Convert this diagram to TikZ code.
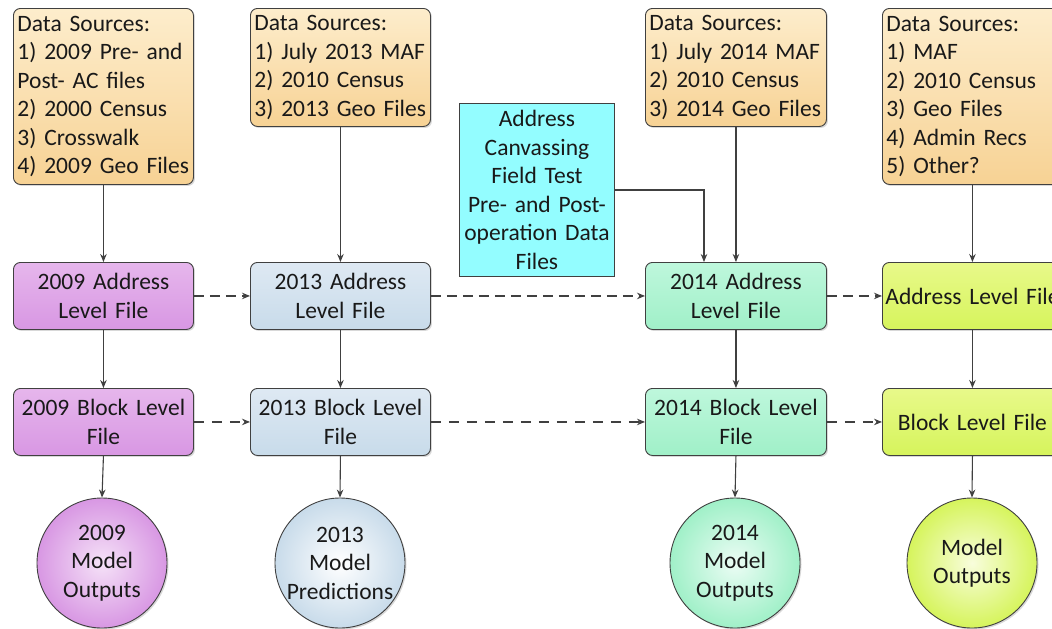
\documentclass[tikz,border=0pt]{standalone}
\usepackage{fontspec}
\setmainfont{Carlito}
\usetikzlibrary{arrows.meta,shadows,shadings}
\newcommand\bigfs{\fontsize{23.5}{28.5}\selectfont}
\definecolor{srcT}{HTML}{FDEDCC}\definecolor{srcB}{HTML}{F7D294}
\definecolor{purT}{HTML}{E6B6EC}\definecolor{purB}{HTML}{D897E3}
\definecolor{bluT}{HTML}{DEE9F3}\definecolor{bluB}{HTML}{C8DBEA}
\definecolor{minT}{HTML}{BEF7DC}\definecolor{minB}{HTML}{A0F0C8}
\definecolor{ylwT}{HTML}{E8F98A}\definecolor{ylwB}{HTML}{D6F45C}
\definecolor{cyanbox}{HTML}{93FDFF}
\definecolor{edge}{HTML}{404040}
\tikzset{
  box/.style={draw=edge, line width=0.9pt, rounded corners=7pt, inner sep=0pt,
    font=\bigfs, text=black!90, anchor=north west,
    drop shadow={shadow xshift=1.5pt,shadow yshift=-1.5pt,opacity=0.3}},
  srcbox/.style={box, top color=srcT, bottom color=srcB, align=left,
    text width=172pt, minimum width=180pt},
  filebox/.style={box, align=center, text width=176pt, minimum width=180pt, minimum height=67pt},
  outc/.style={circle, draw=edge, line width=0.9pt, minimum size=130pt, inner sep=0pt,
    align=center, font=\bigfs, text=black!90,
    drop shadow={shadow xshift=1.5pt,shadow yshift=-1.5pt,opacity=0.3}},
  arr/.style={draw=edge, line width=1.1pt, -{Stealth[length=8pt,width=6.5pt]}},
  dasharrA/.style={arr, line width=1.7pt, dash pattern=on 10pt off 6pt},
  dasharrB/.style={arr, dash pattern=on 10pt off 8pt},
}
\begin{document}
\begin{tikzpicture}[x=1pt,y=-1pt]
\fill[white] (0,0) rectangle (1052,629);
\useasboundingbox (0,0) rectangle (1052,629);
% data sources
\node[srcbox, minimum height=176pt] (src1) at (13,8) {Data Sources:\\1) 2009 Pre- and\\Post- AC files\\2) 2000 Census\\3) Crosswalk\\4) 2009 Geo Files};
\node[srcbox, minimum height=118pt] (src2) at (250,8) {Data Sources:\\1) July 2013 MAF\\2) 2010 Census\\3) 2013 Geo Files};
\node[srcbox, minimum height=118pt, text width=173pt, minimum width=181pt] (src3) at (645,8) {Data Sources:\\1) July 2014 MAF\\2) 2010 Census\\3) 2014 Geo Files};
\node[srcbox, minimum height=176pt] (src4) at (882,8) {Data Sources:\\1) MAF\\2) 2010 Census\\3) Geo Files\\4) Admin Recs\\5) Other?};
% cyan box
\node[draw=edge, line width=0.9pt, fill=cyanbox, inner sep=0pt, anchor=north west,
  minimum width=155pt, minimum height=173pt, text width=150pt, align=center,
  font=\bigfs, text=black!90] (ac) at (459,103)
  {Address\\Canvassing\\Field Test\\Pre- and Post-\\operation Data\\Files};
% address level
\node[filebox, top color=purT, bottom color=purB] (a1) at (13,262) {2009 Address\\Level File};
\node[filebox, top color=bluT, bottom color=bluB] (a2) at (250,262) {2013 Address\\Level File};
\node[filebox, top color=minT, bottom color=minB, minimum width=181pt] (a3) at (645,262) {2014 Address\\Level File};
\node[filebox, top color=ylwT, bottom color=ylwB] (a4) at (882,262) {Address Level File};
% block level
\node[filebox, top color=purT, bottom color=purB] (b1) at (13,388) {2009 Block Level\\File};
\node[filebox, top color=bluT, bottom color=bluB] (b2) at (250,388) {2013 Block Level\\File};
\node[filebox, top color=minT, bottom color=minB, minimum width=181pt] (b3) at (645,388) {2014 Block Level\\File};
\node[filebox, top color=ylwT, bottom color=ylwB] (b4) at (882,388) {Block Level File};
% outputs
\node[outc, inner color=purT!40!white, outer color=purB] (o1) at (102,563) {2009\\Model\\Outputs};
\node[outc, inner color=white, outer color=bluB] (o2) at (340,563) {2013\\Model\\Predictions};
\node[outc, inner color=minT!30!white, outer color=minB] (o3) at (735,563) {2014\\Model\\Outputs};
\node[outc, inner color=ylwT!30!white, outer color=ylwB] (o4) at (972,563) {Model\\Outputs};
% vertical arrows
\foreach \i in {1,2,3,4}{
  \draw[arr] (src\i.south) -- (a\i.north);
  \draw[arr] (a\i.south) -- (b\i.north);
  \draw[arr] (b\i.south) -- (o\i.north);
}
\coordinate (acin) at (704,262);
\draw[arr] (ac.east) -| (acin);
% dashed arrows
\draw[dasharrA] (a1.east) -- (a2.west);
\draw[dasharrA] (a2.east) -- (a3.west);
\draw[dasharrA] (a3.east) -- (a4.west);
\draw[dasharrB] (b1.east) -- (b2.west);
\draw[dasharrB] (b2.east) -- (b3.west);
\draw[dasharrB] (b3.east) -- (b4.west);
\end{tikzpicture}
\end{document}
